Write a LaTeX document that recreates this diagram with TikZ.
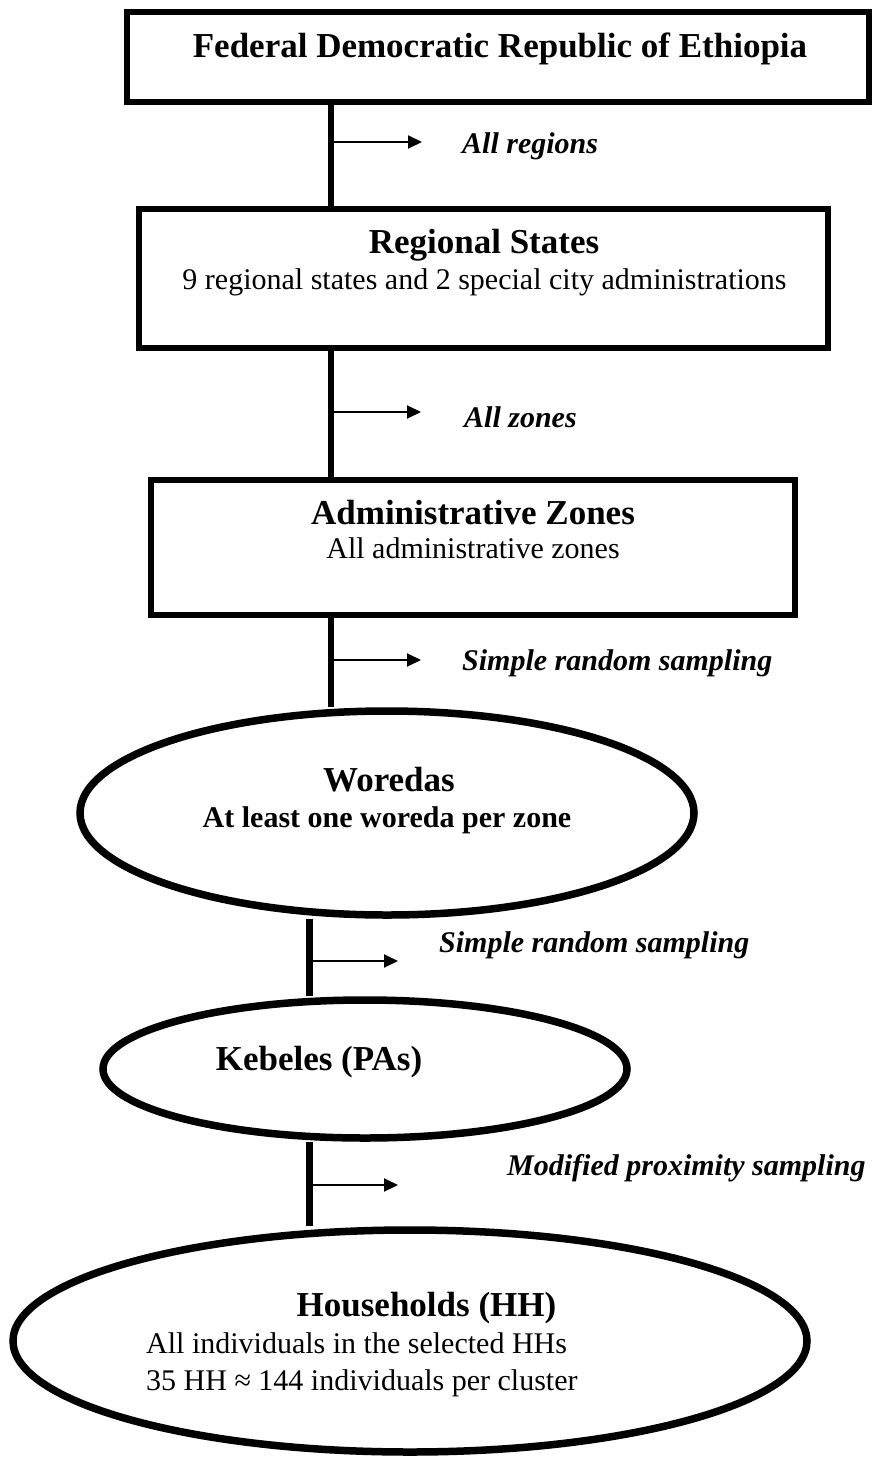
\documentclass[tikz,border=0pt]{standalone}
\usepackage{fontspec}
\setmainfont{Liberation Serif}
\usetikzlibrary{shapes.geometric,arrows.meta}
\tikzset{
  box/.style={draw, rectangle, line width=5.5pt, inner sep=0pt},
  oval/.style={draw, ellipse, line width=7.5pt, inner sep=0pt},
  stem/.style={line width=6.5pt},
  branch/.style={line width=2pt, -{Triangle[length=14pt,width=13pt]}},
  head/.style={font=\fontsize{35}{40}\selectfont\bfseries, inner sep=0pt, anchor=base},
  body/.style={font=\fontsize{30}{36}\selectfont, inner sep=0pt, anchor=base},
  bodyl/.style={font=\fontsize{30}{36}\selectfont, inner sep=0pt, anchor=base west},
  bodyb/.style={font=\fontsize{30}{36}\selectfont\bfseries, inner sep=0pt, anchor=base},
  method/.style={font=\fontsize{30}{36}\selectfont\bfseries\itshape, inner sep=0pt, anchor=base west}
}
\begin{document}
\begin{tikzpicture}[x=1pt,y=-1pt]
\useasboundingbox (0,0) rectangle (872,1458);
% shapes
\node[box, minimum width=742pt, minimum height=90pt] (top) at (498,57) {};
\node[box, minimum width=689pt, minimum height=139pt] (reg) at (483.5,278.5) {};
\node[box, minimum width=644pt, minimum height=135pt] (adm) at (473,547.5) {};
\node[oval, minimum width=614pt, minimum height=204pt] (wor) at (387,813) {};
\node[oval, minimum width=524pt, minimum height=138pt] (keb) at (365,1069) {};
\node[oval, minimum width=794pt, minimum height=222pt] (hh) at (410,1341) {};
% texts
\node[head] (t1) at (500,58) {Federal Democratic Republic of Ethiopia};
\node[head] (t2) at (484,253) {Regional States};
\node[body] (t2b) at (484.5,289) {9 regional states and 2 special city administrations};
\node[head] (t3) at (473,524) {Administrative Zones};
\node[body] (t3b) at (473,558) {All administrative zones};
\node[head] (t4) at (389,791) {Woredas};
\node[bodyb] (t4b) at (387,827) {At least one woreda per zone};
\node[head] (t5) at (319,1070) {Kebeles (PAs)};
\node[head] (t6) at (426.5,1316) {Households (HH)};
\node[bodyl] (t6b) at (146,1353) {All individuals in the selected HHs};
\node[bodyl] (t6c) at (146,1390) {35 HH ≈ 144 individuals per cluster};
\node[method] (m1) at (462,154) {All regions};
\node[method] (m2) at (464,427) {All zones};
\node[method] (m3) at (462,670) {Simple random sampling};
\node[method] (m4) at (439,952) {Simple random sampling};
\node[method] (m5) at (507,1175) {Modified proximity sampling};
% connector positions
\coordinate (sa) at (331,0);
\coordinate (sb) at (309,0);
\draw[stem] (top.south -| sa) -- (reg.north -| sa);
\draw[stem] (reg.south -| sa) -- (adm.north -| sa);
\draw[stem] (adm.south -| sa) -- (sa |- wor.north);
\draw[stem, line width=7pt] (sb |- wor.south) -- (sb |- keb.north);
\draw[stem, line width=7pt] (sb |- keb.south) -- (sb |- hh.north);
% branch arrows
\coordinate (b1) at (331,142); \coordinate (e1) at (422,142);
\coordinate (b2) at (331,412); \coordinate (e2) at (421,412);
\coordinate (b3) at (331,660); \coordinate (e3) at (421,660);
\coordinate (b4) at (309,961); \coordinate (e4) at (398,961);
\coordinate (b5) at (309,1185); \coordinate (e5) at (398,1185);
\draw[branch] (b1) -- (e1);
\draw[branch] (b2) -- (e2);
\draw[branch] (b3) -- (e3);
\draw[branch] (b4) -- (e4);
\draw[branch] (b5) -- (e5);
\end{tikzpicture}
\end{document}
